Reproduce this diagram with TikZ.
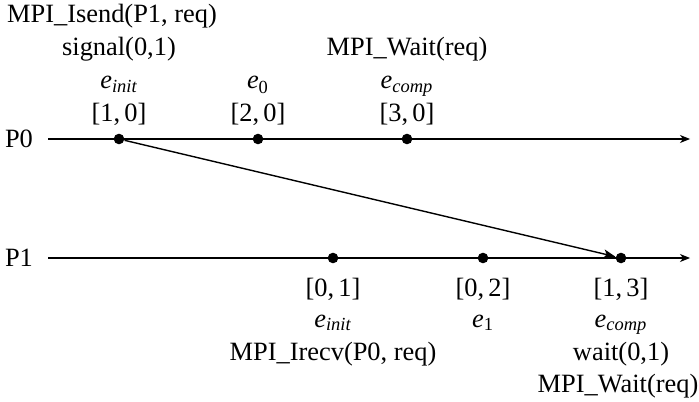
\documentclass[tikz,border=0pt]{standalone}
\usepackage{amsmath}
\usepackage{fontspec}
\setmainfont{Liberation Serif}
\usetikzlibrary{arrows.meta}
\newcommand{\evl}[2]{$\textit{#1}_{#2}$}
\begin{document}
\begin{tikzpicture}[x=0.5pt,y=-0.5pt,
  txt/.style={anchor=base,inner sep=0pt,font=\fontsize{13.2}{15}\selectfont},
  evt/.style={circle,fill=black,inner sep=0pt,minimum size=5.3pt},
  axis/.style={line width=0.6pt,-{Stealth[length=5pt,width=4pt,inset=1.5pt]}},
  msg/.style={line width=0.7pt,-{Stealth[length=6pt,width=4.5pt,inset=1.5pt]}}]
\useasboundingbox (0,0) rectangle (699,401);
% process lines
\node[txt,anchor=center] (P0) at (19,139) {P0};
\node[txt,anchor=center] (P1) at (19,258) {P1};
\coordinate (p0s) at (48,139);
\coordinate (p0e) at (690,139);
\coordinate (p1s) at (48,258);
\coordinate (p1e) at (690,258);
\draw[axis] (p0s) -- (p0e);
\draw[axis] (p1s) -- (p1e);
% events
\node[evt] (a0) at (119,139) {};
\node[evt] (a1) at (258,139) {};
\node[evt] (a2) at (407,139) {};
\node[evt] (b0) at (333,258) {};
\node[evt] (b1) at (483,258) {};
\node[evt] (b2) at (621,258) {};
\draw[msg] (a0) -- (b2);
% labels P0
\node[txt] (t1) at (112,23) {MPI\_Isend(P1, req)};
\node[txt] (t2) at (119,56) {signal(0,1)};
\node[txt] (t3) at (119,89) {\evl{e}{\textit{init}}};
\node[txt] (t4) at (119,121) {[1,\,0]};
\node[txt] (t5) at (258,89) {\evl{e}{\text{0}}};
\node[txt] (t6) at (258,121) {[2,\,0]};
\node[txt] (t7) at (407,56) {MPI\_Wait(req)};
\node[txt] (t8) at (407,89) {\evl{e}{\textit{comp}}};
\node[txt] (t9) at (407,121) {[3,\,0]};
% labels P1
\node[txt] (u1) at (333,296) {[0,\,1]};
\node[txt] (u2) at (333,327) {\evl{e}{\textit{init}}};
\node[txt] (u3) at (333,360) {MPI\_Irecv(P0, req)};
\node[txt] (u4) at (483,296) {[0,\,2]};
\node[txt] (u5) at (483,327) {\evl{e}{\text{1}}};
\node[txt] (u6) at (621,296) {[1,\,3]};
\node[txt] (u7) at (621,327) {\evl{e}{\textit{comp}}};
\node[txt] (u8) at (621,360) {wait(0,1)};
\node[txt] (u9) at (618,392) {MPI\_Wait(req)};
\end{tikzpicture}
\end{document}
